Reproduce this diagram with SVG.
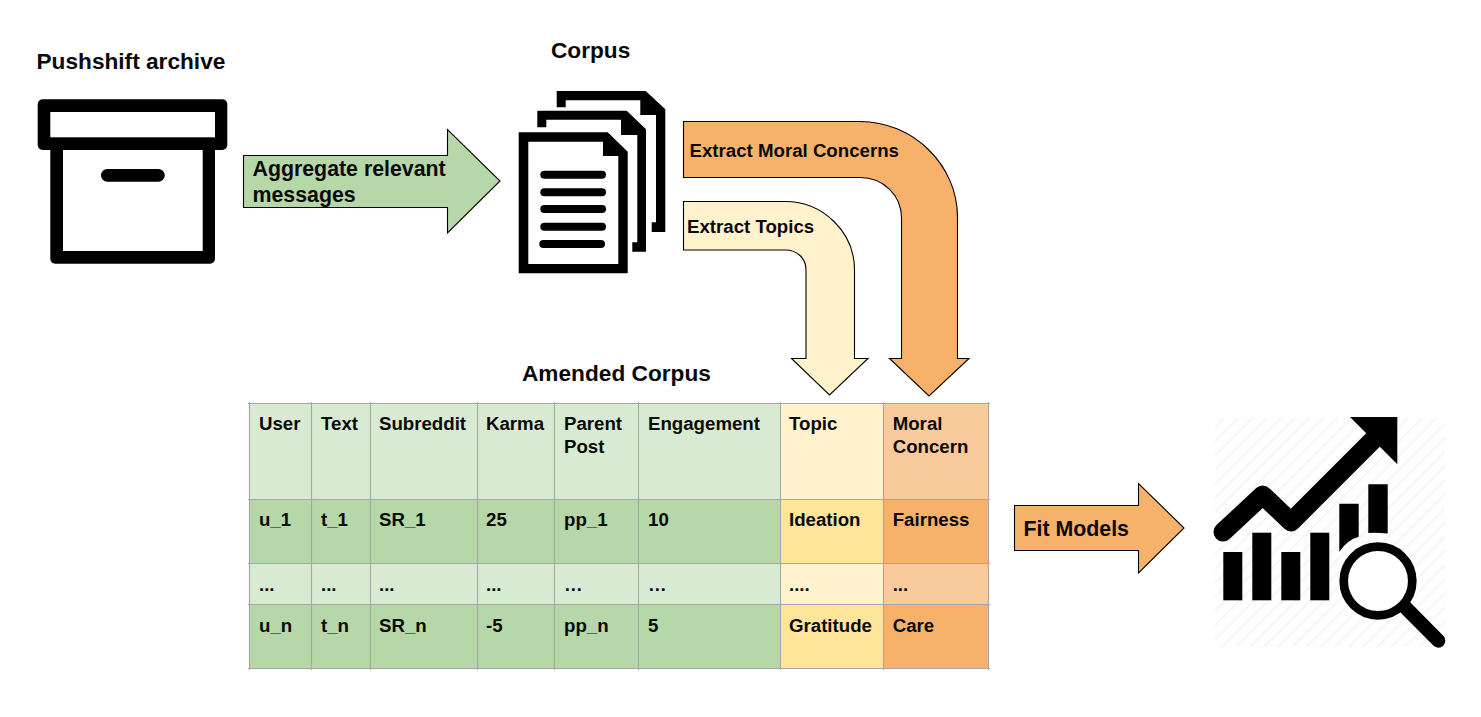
<svg xmlns="http://www.w3.org/2000/svg" width="1481" height="717" viewBox="0 0 1481 717">
<style>
text{font-family:"Liberation Sans",Arial,sans-serif;font-weight:700;fill:#0a0a0a}
.t{font-size:22.67px}
.a{font-size:21.33px}
.c{font-size:18.67px}
.arrow{stroke:#000;stroke-width:1.1;stroke-linejoin:miter}
.icon{fill:#000}
.lg{fill:#d9ead3}.g{fill:#b6d7a8}
.ly{fill:#fff2cc}.y{fill:#ffe599}
.lo{fill:#f9cb9c}.o{fill:#f6b26b}
.grid line{stroke:#a6a6a6;stroke-width:1.1}
</style>
<defs>
<pattern id="hatch" width="10" height="10" patternUnits="userSpaceOnUse" patternTransform="rotate(45)">
<rect width="10" height="10" fill="#fff"/>
<rect width="2.5" height="10" fill="#f6f6f6"/>
</pattern>
</defs>
<rect width="1481" height="717" fill="#fff"/>

<g id="pushshift-archive">
<text class="t" x="36.5" y="69">Pushshift archive</text>
<rect class="icon" x="37.7" y="99.3" width="189.6" height="50.7" rx="5"/>
<rect class="icon" x="50.3" y="140" width="164.7" height="123.7" rx="5"/>
<rect x="50.3" y="112" width="164.7" height="25.3" fill="#fff"/>
<rect x="63" y="150" width="139.7" height="101" fill="#fff"/>
<rect class="icon" x="101" y="169" width="63.7" height="12.7" rx="6.3"/>
</g>

<g id="corpus">
<text class="t" x="551" y="58">Corpus</text>
<path class="icon" d="M556.7 107.3V91H645.7L665.3 109.3V232H651.7V222.3H656V115H640.3V100.3H565.7V107.3Z"/>
<path class="icon" d="M537.3 127.3V110.7H626.7L646 129.3V251.7H632.3V242.3H637.3V135H621V119.7H546.3V127.3Z"/>
<path class="icon" d="M518.7 273.3V132.3H607.7L627.7 151.7V273.3Z"/>
<path d="M528.3 141.7H603V156H618.3V264H528.3Z" fill="#fff"/>
<g class="icon">
<rect x="540.3" y="170.7" width="65.7" height="8" rx="4"/>
<rect x="540.3" y="188.3" width="65.7" height="8" rx="4"/>
<rect x="540.3" y="205" width="65.7" height="8" rx="4"/>
<rect x="540.3" y="222.7" width="65.7" height="8" rx="4"/>
<rect x="539.3" y="240" width="65.7" height="8" rx="4"/>
</g>
</g>

<g id="connectors">
<g id="arrow-aggregate">
<path class="arrow g" d="M243.5 155.5H447.5V129.5L500 181L447.5 233V207.5H243.5Z"/>
<text class="a" x="252.5" y="176">Aggregate relevant</text>
<text class="a" x="252.5" y="202">messages</text>
</g>
<g id="arrow-moral">
<path class="arrow o" d="M683.5 121.5H860C913 121.5 957.5 165 957.5 217V358.5H969L929 396L889.5 358.5H901.5V218C901.5 195 883 177.5 860 177.5H683.5Z"/>
<text class="c" x="689.5" y="157">Extract Moral Concerns</text>
</g>
<g id="arrow-topics">
<path class="arrow ly" d="M683.5 201.5H785C823 201.5 854.5 232 854.5 270V358.5H868L829.5 395L791.5 358.5H806V270C806 258 797 250 785 250H683.5Z"/>
<text class="c" x="687" y="233">Extract Topics</text>
</g>
<g id="arrow-fit">
<path class="arrow o" d="M1014.5 505.5H1138.5V483.5L1184 528L1138.5 573V550.5H1014.5Z"/>
<text class="a" x="1023.5" y="536">Fit Models</text>
</g>
</g>

<g id="amended-corpus">
<text class="t" x="522" y="380.5">Amended Corpus</text>
<rect class="lg" x="249" y="403" width="531" height="96"/>
<rect class="g" x="249" y="499" width="531" height="64"/>
<rect class="lg" x="249" y="563" width="531" height="41"/>
<rect class="g" x="249" y="604" width="531" height="65"/>
<rect class="ly" x="780" y="403" width="103" height="96"/>
<rect class="y" x="780" y="499" width="103" height="64"/>
<rect class="ly" x="780" y="563" width="103" height="41"/>
<rect class="y" x="780" y="604" width="103" height="65"/>
<rect class="lo" x="883" y="403" width="106" height="96"/>
<rect class="o" x="883" y="499" width="106" height="64"/>
<rect class="lo" x="883" y="563" width="106" height="41"/>
<rect class="o" x="883" y="604" width="106" height="65"/>
<g class="grid">
<line x1="248" y1="403.5" x2="990" y2="403.5"/>
<line x1="248" y1="499.5" x2="990" y2="499.5"/>
<line x1="248" y1="563.5" x2="990" y2="563.5"/>
<line x1="248" y1="604.5" x2="990" y2="604.5"/>
<line x1="248" y1="668.5" x2="990" y2="668.5"/>
<line x1="249.5" y1="402" x2="249.5" y2="670"/>
<line x1="311.5" y1="402" x2="311.5" y2="670"/>
<line x1="370.5" y1="402" x2="370.5" y2="670"/>
<line x1="477.5" y1="402" x2="477.5" y2="670"/>
<line x1="554.5" y1="402" x2="554.5" y2="670"/>
<line x1="638.5" y1="402" x2="638.5" y2="670"/>
<line x1="780.5" y1="402" x2="780.5" y2="670"/>
<line x1="883.5" y1="402" x2="883.5" y2="670"/>
<line x1="988.5" y1="402" x2="988.5" y2="670"/>
</g>
<g class="c">
<text class="c" x="259" y="430">User</text><text class="c" x="321" y="430">Text</text><text class="c" x="379" y="430">Subreddit</text><text class="c" x="486" y="430">Karma</text><text class="c" x="564" y="430">Parent</text><text class="c" x="564" y="453">Post</text><text class="c" x="648" y="430">Engagement</text><text class="c" x="789" y="430">Topic</text><text class="c" x="892.7" y="430">Moral</text><text class="c" x="892.7" y="453">Concern</text>
<text class="c" x="259" y="526">u_1</text><text class="c" x="321" y="526">t_1</text><text class="c" x="379" y="526">SR_1</text><text class="c" x="486" y="526">25</text><text class="c" x="564" y="526">pp_1</text><text class="c" x="648" y="526">10</text><text class="c" x="789" y="526">Ideation</text><text class="c" x="892.7" y="526">Fairness</text>
<text class="c" x="259" y="590.5">...</text><text class="c" x="321" y="590.5">...</text><text class="c" x="379" y="590.5">...</text><text class="c" x="486" y="590.5">...</text><text class="c" x="564" y="590.5">…</text><text class="c" x="648" y="590.5">…</text><text class="c" x="789" y="590.5">....</text><text class="c" x="892.7" y="590.5">...</text>
<text class="c" x="259" y="631.5">u_n</text><text class="c" x="321" y="631.5">t_n</text><text class="c" x="379" y="631.5">SR_n</text><text class="c" x="486" y="631.5">-5</text><text class="c" x="564" y="631.5">pp_n</text><text class="c" x="648" y="631.5">5</text><text class="c" x="789" y="631.5">Gratitude</text><text class="c" x="892.7" y="631.5">Care</text>
</g>
</g>

<g id="model-results">
<rect x="1215" y="418" width="230" height="229" fill="url(#hatch)"/>
<g class="icon">
<rect x="1223.3" y="552" width="19" height="48.3"/>
<rect x="1252.3" y="532.7" width="19" height="67.6"/>
<rect x="1281.3" y="552" width="19" height="48.3"/>
<rect x="1310.3" y="532.7" width="19" height="67.6"/>
<path d="M1339.3 503.7H1358.7V536.7Q1347 540 1339.3 551.7Z"/>
<path d="M1368.3 484.3H1387.7V533.5Q1377 532.5 1368.3 533Z"/>
<path d="M1350 417H1397.3V464.3Z"/>
</g>
<path d="M1223 532L1262.7 495L1291 522L1378 435" fill="none" stroke="#000" stroke-width="19" stroke-linecap="round" stroke-linejoin="round"/>
<circle cx="1378" cy="581" r="34.3" fill="#fff" stroke="#000" stroke-width="8.7"/>
<path d="M1405 607L1438.3 640.7" fill="none" stroke="#000" stroke-width="14" stroke-linecap="round"/>
</g>
</svg>
